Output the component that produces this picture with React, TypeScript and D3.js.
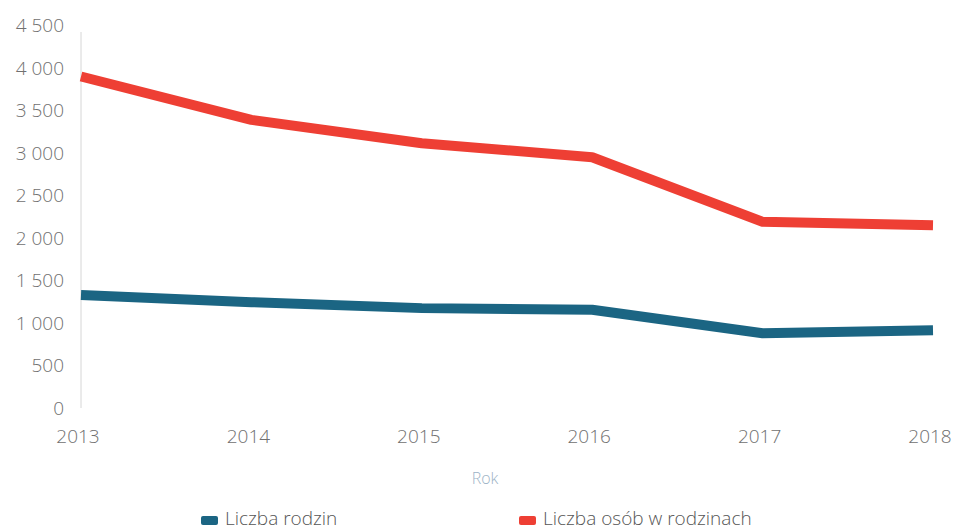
import React from "react";
import * as d3 from "d3";

const years = [2013, 2014, 2015, 2016, 2017, 2018];
const families = [1330, 1245, 1175, 1155, 880, 915];
const persons = [3900, 3390, 3115, 2950, 2190, 2150];
const yTicks = [0, 500, 1000, 1500, 2000, 2500, 3000, 3500, 4000, 4500];
const seriesNames = ["Liczba rodzin", "Liczba osób w rodzinach"];
const seriesColors = ["#1b6583", "#ee3f34"];
const xTitle = "Rok";

const W = 959, H = 531;

export default function App() {
  const x = d3.scaleLinear().domain([2013, 2018]).range([81, 933]);
  const y = d3.scaleLinear().domain([0, 4500]).range([408, 25.5]);
  const line = d3.line<number>().x((_, i) => x(years[i])).y((d) => y(d));
  const fmt = (v: number) => (v >= 1000 ? d3.format(",")(v).replace(",", " ") : String(v));
  const font = "'Open Sans', sans-serif";
  const legendX = [201, 519];
  return (
    <svg width={W} height={H} style={{ position: "absolute", left: 0, top: 0, background: "#fff" }} fontFamily={font}>
      <line x1={x(2013)} x2={x(2013)} y1={32} y2={408} stroke="#d6d6d6" strokeWidth={1} />
      {yTicks.map((t) => (
        <text key={t} x={64} y={y(t)} dy="0.35em" textAnchor="end" fontSize={19} fontWeight={300} fill="#707070">{fmt(t)}</text>
      ))}
      {years.map((yr) => (
        <text key={yr} x={x(yr) - 3} y={436} dy="0.35em" textAnchor="middle" fontSize={19} fontWeight={300} fill="#707070">{yr}</text>
      ))}
      <text x={485} y={478} dy="0.35em" textAnchor="middle" fontSize={16} fontWeight={300} fill="#9db3c6">{xTitle}</text>
      {[families, persons].map((s, i) => (
        <path key={i} d={line(s) || ""} fill="none" stroke={seriesColors[i]} strokeWidth={10} strokeLinejoin="round" />
      ))}
      {seriesNames.map((n, i) => (
        <g key={n}>
          <rect x={legendX[i]} y={516} width={17} height={9} rx={2} fill={seriesColors[i]} />
          <text x={legendX[i] + 24} y={518} dy="0.35em" fontSize={19} fontWeight={300} fill="#555">{n}</text>
        </g>
      ))}
    </svg>
  );
}
